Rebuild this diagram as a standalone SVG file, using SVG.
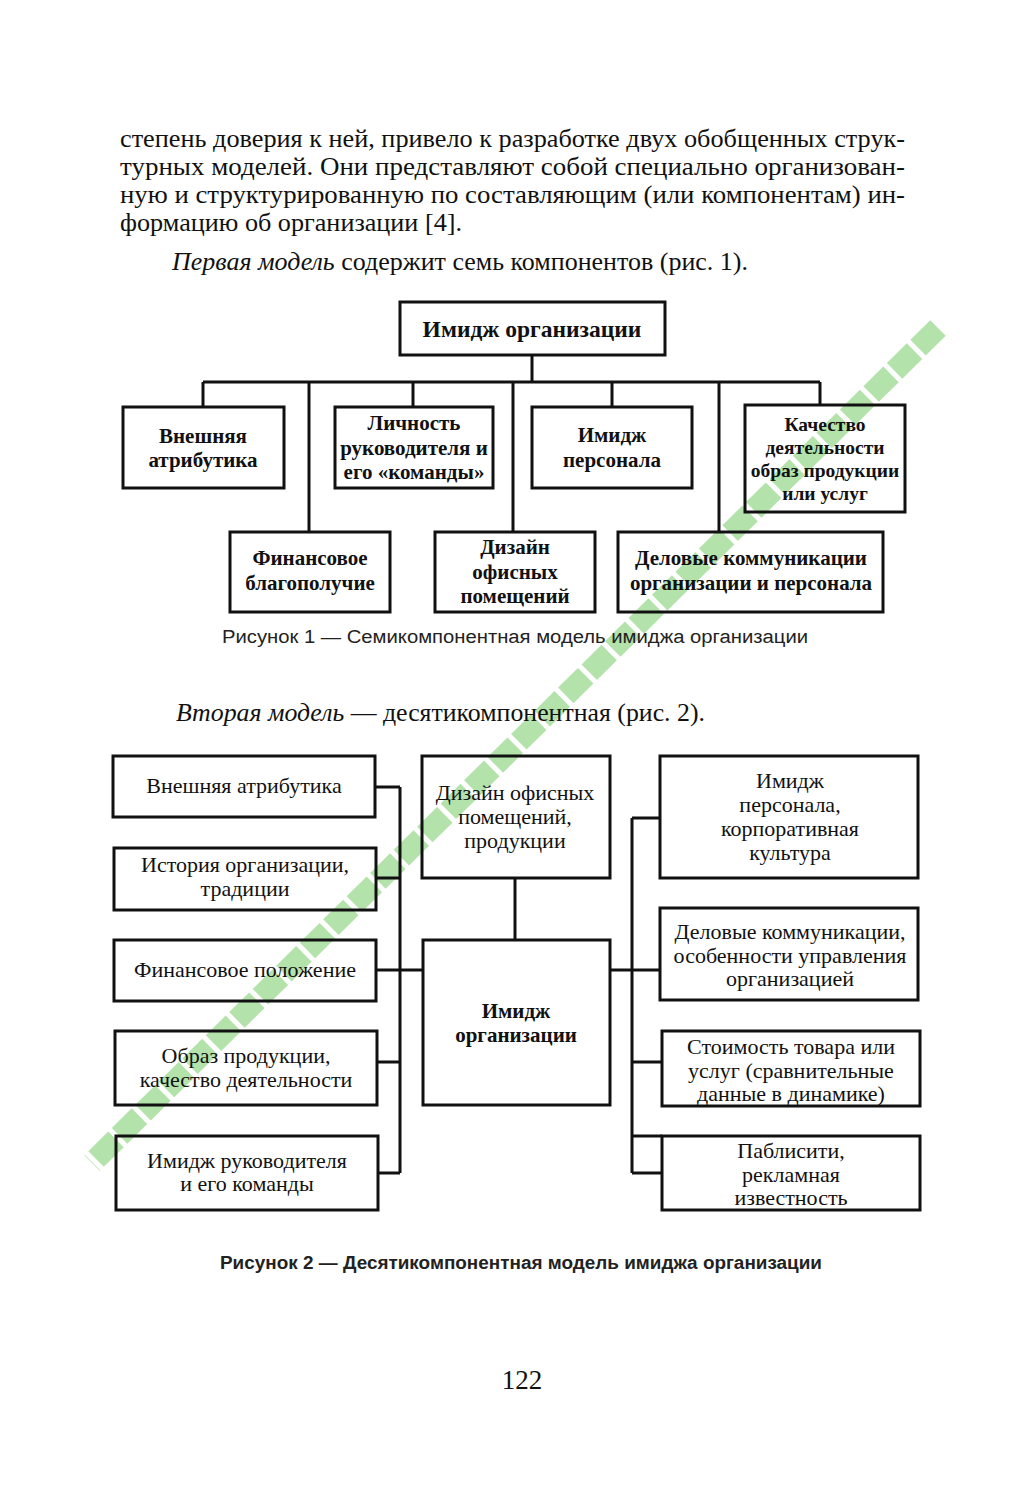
<svg xmlns="http://www.w3.org/2000/svg" width="1029" height="1486" viewBox="0 0 1029 1486">
<style>
.p{font-family:"Liberation Serif","Times New Roman",serif;font-size:25px;fill:#111}
.b{fill:none;stroke:#111;stroke-width:3}
.t1{font-family:"Liberation Serif","Times New Roman",serif;font-size:21px;font-weight:bold;fill:#111;text-anchor:middle}
.t2{font-family:"Liberation Serif","Times New Roman",serif;font-size:22px;fill:#111;text-anchor:middle}
.cap{font-family:"Liberation Sans",Arial,sans-serif;font-size:18px;fill:#222}
.c{fill:none;stroke:#111;stroke-width:3}
.k{font-size:19.5px}
.big{font-size:23.5px}
.mid{font-size:22px}
</style>
<rect width="1029" height="1486" fill="#fff"/>
<g id="watermark">
<line x1="938" y1="328" x2="92" y2="1163" stroke="#b3e3ab" stroke-width="22" stroke-dasharray="28 5"/>
</g>
<g id="text">
<text class="p" x="120" y="147" textLength="785" lengthAdjust="spacingAndGlyphs">степень доверия к ней, привело к разработке двух обобщенных струк-</text>
<text class="p" x="120" y="175" textLength="785" lengthAdjust="spacingAndGlyphs">турных моделей. Они представляют собой специально организован-</text>
<text class="p" x="120" y="203" textLength="785" lengthAdjust="spacingAndGlyphs">ную и структурированную по составляющим (или компонентам) ин-</text>
<text class="p" x="120" y="231" textLength="342" lengthAdjust="spacingAndGlyphs">формацию об организации [4].</text>
<text class="p" x="172" y="270" textLength="576" lengthAdjust="spacingAndGlyphs"><tspan font-style="italic">Первая модель</tspan> содержит семь компонентов (рис. 1).</text>
<text class="p" x="176" y="721" textLength="529" lengthAdjust="spacingAndGlyphs"><tspan font-style="italic">Вторая модель</tspan> — десятикомпонентная (рис. 2).</text>
<text class="p" x="522" y="1389" text-anchor="middle" style="font-size:27px">122</text>
<text class="cap" x="222" y="643" textLength="586" lengthAdjust="spacingAndGlyphs">Рисунок 1 — Семикомпонентная модель имиджа организации</text>
<text class="cap" x="220" y="1269" style="font-weight:bold" textLength="602" lengthAdjust="spacingAndGlyphs">Рисунок 2 — Десятикомпонентная модель имиджа организации</text>
</g>
<g id="connectors">
<path class="c" d="M532 355V382M203 382H820M203 382V407M413 382V407M612 382V407M820 382V405M309 382V532M513 382V532M719 382V532"/>
<path class="c" d="M375 787H400M376 878H400M376 970H423M377 1062H400M378 1173H400M400 787V1173"/>
<path class="c" d="M515 878V940"/>
<path class="c" d="M610 970H660M632 818H660M632 1062H662M632 1136H662M632 1173H662M632 818V1173"/>
</g>
<g id="fig1-top"><rect class="b" x="400" y="302" width="265" height="53"/><text class="t1 big" x="532" y="337">Имидж организации</text></g>
<g id="fig1-vnesh"><rect class="b" x="123" y="407" width="161" height="81"/><text class="t1" x="203" y="443">Внешняя</text><text class="t1" x="203" y="467">атрибутика</text></g>
<g id="fig1-lichn"><rect class="b" x="335" y="407" width="158" height="81"/><text class="t1" x="414" y="430">Личность</text><text class="t1" x="414" y="455">руководителя и</text><text class="t1" x="414" y="479">его «команды»</text></g>
<g id="fig1-pers"><rect class="b" x="532" y="407" width="160" height="81"/><text class="t1" x="612" y="442">Имидж</text><text class="t1" x="612" y="467">персонала</text></g>
<g id="fig1-kach"><rect class="b" x="745" y="405" width="160" height="107"/><text class="t1 k" x="825" y="431">Качество</text><text class="t1 k" x="825" y="454">деятельности</text><text class="t1 k" x="825" y="477">образ продукции</text><text class="t1 k" x="825" y="500">или услуг</text></g>
<g id="fig1-fin"><rect class="b" x="230" y="532" width="160" height="80"/><text class="t1" x="310" y="565">Финансовое</text><text class="t1" x="310" y="590">благополучие</text></g>
<g id="fig1-diz"><rect class="b" x="435" y="532" width="160" height="80"/><text class="t1" x="515" y="554">Дизайн</text><text class="t1" x="515" y="579">офисных</text><text class="t1" x="515" y="603">помещений</text></g>
<g id="fig1-del"><rect class="b" x="618" y="532" width="265" height="80"/><text class="t1" x="751" y="565">Деловые коммуникации</text><text class="t1" x="751" y="590">организации и персонала</text></g>
<g id="fig2-vnesh"><rect class="b" x="113" y="756" width="262" height="61"/><text class="t2" x="244" y="793">Внешняя атрибутика</text></g>
<g id="fig2-ist"><rect class="b" x="114" y="848" width="262" height="62"/><text class="t2" x="245" y="872">История организации,</text><text class="t2" x="245" y="896">традиции</text></g>
<g id="fig2-fin"><rect class="b" x="114" y="940" width="262" height="61"/><text class="t2" x="245" y="977">Финансовое положение</text></g>
<g id="fig2-obr"><rect class="b" x="115" y="1031" width="262" height="74"/><text class="t2" x="246" y="1063">Образ продукции,</text><text class="t2" x="246" y="1087">качество деятельности</text></g>
<g id="fig2-ruk"><rect class="b" x="116" y="1136" width="262" height="74"/><text class="t2" x="247" y="1168">Имидж руководителя</text><text class="t2" x="247" y="1191">и его команды</text></g>
<g id="fig2-diz"><rect class="b" x="422" y="756" width="188" height="122"/><text class="t2" x="515" y="800">Дизайн офисных</text><text class="t2" x="515" y="824">помещений,</text><text class="t2" x="515" y="848">продукции</text></g>
<g id="fig2-center"><rect class="b" x="423" y="940" width="187" height="165"/><text class="t1" x="516" y="1018">Имидж</text><text class="t1" x="516" y="1042">организации</text></g>
<g id="fig2-pers"><rect class="b" x="660" y="756" width="258" height="122"/><text class="t2" x="790" y="788">Имидж</text><text class="t2" x="790" y="812">персонала,</text><text class="t2" x="790" y="836">корпоративная</text><text class="t2" x="790" y="860">культура</text></g>
<g id="fig2-del"><rect class="b" x="660" y="908" width="258" height="92"/><text class="t2" x="790" y="939">Деловые коммуникации,</text><text class="t2" x="790" y="963">особенности управления</text><text class="t2" x="790" y="986">организацией</text></g>
<g id="fig2-stoim"><rect class="b" x="662" y="1031" width="258" height="75"/><text class="t2" x="791" y="1054">Стоимость товара или</text><text class="t2" x="791" y="1078">услуг (сравнительные</text><text class="t2" x="791" y="1101">данные в динамике)</text></g>
<g id="fig2-pabl"><rect class="b" x="662" y="1136" width="258" height="74"/><text class="t2" x="791" y="1158">Паблисити,</text><text class="t2" x="791" y="1182">рекламная</text><text class="t2" x="791" y="1205">известность</text></g>
</svg>
